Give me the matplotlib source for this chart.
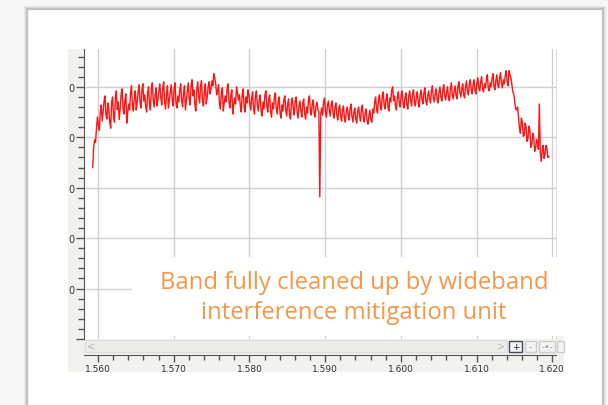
import numpy as np
import matplotlib
matplotlib.use("Agg")
import matplotlib.pyplot as plt
from matplotlib.patches import Rectangle
from matplotlib.ticker import MultipleLocator, FixedLocator

# trace samples (dB, 0 = top grid line)
f_start = 1.5593
f_step = 0.00025
level = [
    -16.0, -10.5, -8.2, -7.5, -5.0, -6.8, -2.8, -5.6, -3.2, -7.0, -3.0,
    -5.8, -2.2, -4.5, -6.5, -1.6, -4.2, -2.6, -7.2, -3.4, -1.2,
    -3.8, -2.0, -4.6, -1.0, -3.0, -0.6, -2.8, -4.0, -1.2, -3.4,
    -0.4, -2.6, -1.6, -3.8, -0.8, -2.2, -0.2, -3.0, -1.4, -4.2,
    -1.0, -2.6, -0.4, -3.2, -1.8, -0.6, -2.8, -1.2, -4.6, -0.8,
    -2.4, 0.4, -1.8, -3.6, -0.6, -2.0, 0.2, -2.6, -1.0, -3.4,
    0.0, -1.4, 1.2, 2.6, 0.6, -0.8, -3.4, -1.2, -4.8, -1.8,
    -0.4, -3.0, -1.6, -5.4, -2.2, 0.0, -2.6, -3.8, -1.4, -4.0,
    -2.0, -0.6, -3.2, -2.2, -4.4, -1.8, -3.6, -2.6, -4.8, -3.0,
    -1.6, -3.8, -2.4, -5.0, -3.2, -2.0, -4.2, -3.0, -5.2, -3.6,
    -2.6, -4.6, -3.4, -5.6, -3.0, -4.4, -2.8, -5.0, -3.8, -4.8,
    -3.2, -5.4, -4.0, -2.6, -4.6, -3.4, -5.2, -3.8, -4.6, -21.8,
    -4.2, -3.0, -5.0, -3.8, -4.6, -3.6, -5.2, -4.0, -5.6, -4.4,
    -5.8, -4.6, -6.2, -4.8, -5.6, -4.2, -6.0, -5.0, -6.4, -4.8,
    -5.8, -4.4, -6.2, -5.2, -6.8, -5.6, -6.6, -4.4, -3.0, -4.6,
    -2.6, -3.8, -1.8, -3.6, -2.4, -4.0, -2.2, -0.6, -2.8, -3.8,
    -2.0, -3.2, -1.6, -3.4, -2.2, -3.6, -1.8, -2.8, -1.4, -3.0,
    -2.0, -3.2, -1.6, -2.6, -1.2, -2.8, -1.8, -2.4, -0.8, -2.2,
    -1.4, -2.6, -1.0, -2.0, -0.6, -1.8, -1.0, -2.2, -0.4, -1.6,
    -0.8, -1.8, 0.2, -1.2, -0.4, -1.6, 0.0, -0.8, 0.6, -0.6,
    0.4, -0.8, 0.8, -0.2, 1.0, -0.4, 0.6, 1.4, -0.2, 0.8,
    1.6, 0.2, 1.2, 0.4, 1.8, 0.6, 1.4, 2.2, 1.0, 3.2,
    1.8, -1.0, -3.0, -4.6, -6.0, -9.2, -7.0, -9.6, -8.0, -10.2,
    -8.6, -11.4, -10.0, -12.2, -11.0, -3.4, -14.8, -11.6, -13.4, -12.2, -13.8,
]
# samples halfway between the ones above
level_mid = [
    -12.0, -11.0, -6.0, -8.6, -3.6, -5.0, -1.8, -6.4, -4.4, -8.2,
    -2.0, -7.0, -0.8, -3.0, -4.4, -0.4, -5.4, -1.4, -5.0, -4.6,
    0.2, -4.8, -0.8, -3.0, 0.4, -4.2, 0.6, -1.6, -5.0, 0.0,
    -4.6, 0.8, -4.0, -0.2, -2.4, 0.6, -3.6, 1.0, -4.4, 0.2,
    -2.6, 0.4, -3.8, 0.8, -4.2, -3.0, 0.6, -4.0, 0.2, -2.6,
    0.8, -3.6, 1.4, -0.6, -4.8, 1.0, -3.2, 1.2, -3.8, 0.6,
    -2.0, 1.0, -0.4, 0.2, 1.8, -1.6, 0.4, -4.4, -0.2, -3.2,
    -3.0, 0.6, -4.2, -0.6, -3.6, -3.4, -1.2, -1.6, -5.0, -0.4,
    -5.0, -3.2, -1.6, -4.6, -1.0, -5.4, -0.8, -4.8, -1.6, -5.8,
    -4.4, -0.8, -5.0, -1.6, -6.0, -4.4, -1.2, -5.4, -2.0, -6.2,
    -4.8, -1.8, -5.8, -2.4, -6.4, -2.2, -5.6, -2.0, -6.2, -2.8,
    -6.0, -2.4, -6.4, -5.2, -1.8, -5.6, -2.6, -6.0, -3.0, -5.0,
    -5.4, -5.6, -2.2, -6.0, -2.8, -5.8, -2.8, -6.2, -3.2, -6.6, -3.6,
    -6.8, -3.8, -7.0, -4.0, -6.6, -3.4, -7.0, -4.2, -7.2, -4.0,
    -6.8, -3.6, -7.0, -4.4, -7.4, -4.6, -7.0, -5.2, -2.0, -5.2,
    -1.6, -4.6, -1.0, -4.4, -1.4, -4.8, -3.0, 0.0, -1.8, -4.6,
    -1.0, -4.0, -0.8, -4.2, -1.2, -4.4, -0.8, -3.8, -0.6, -3.8,
    -1.0, -4.0, -0.6, -3.4, -0.2, -3.6, -0.8, -3.2, 0.2, -3.0,
    -0.4, -3.2, 0.0, -2.8, 0.4, -2.6, 0.0, -2.8, 0.8, -2.4,
    0.2, -2.4, 1.0, -2.0, 0.6, -2.2, 1.2, -1.6, 1.4, -1.4,
    1.4, -1.4, 1.8, -0.8, 2.0, -1.0, -0.2, 2.4, -0.8, 0.0,
    2.6, -0.6, 2.4, -0.2, 2.8, -0.2, 0.6, 3.2, 0.2, 2.4,
    0.4, -1.4, -4.4, -4.0, -8.2, -6.2, -9.8, -7.2, -10.8, -7.8,
    -12.0, -9.2, -12.8, -10.4, -12.4, -13.0, -12.6, -14.2, -11.6, -14.0,
]

x_ticks = [1.560, 1.570, 1.580, 1.590, 1.600, 1.610, 1.620]
x_labels = ["1.560", "1.570", "1.580", "1.590", "1.600", "1.610", "1.620"]
y_ticks = [0, -10, -20, -30, -40, -50]
y_labels = ["0", "0", "0", "0", "0", ""]
note = "Band fully cleaned up by wideband\ninterference mitigation unit"

# interleave the two sample sets into one trace
n = len(level)
trace = np.empty(2 * n - 1)
trace[0::2] = level
trace[1::2] = level_mid[:n - 1]
freq = f_start + (f_step / 2) * np.arange(len(trace))

W, H = 608, 406


def box(x0, y0, x1, y1):
    # pixel box (top-left origin) -> figure fraction rect
    return (x0 / W, 1 - y1 / H), (x1 - x0) / W, (y1 - y0) / H


fig = plt.figure(figsize=(6.08, 4.06), dpi=100, facecolor="#f6f6f6")

# card with soft shadow
for i, a in enumerate([0.05, 0.07, 0.1]):
    xy, w, h = box(27 - 3 + i, 10 - 3 + i, 602 + 4 - i, 420)
    fig.add_artist(Rectangle(xy, w, h, transform=fig.transFigure,
                             facecolor="black", alpha=a, lw=0, zorder=-5))
xy, w, h = box(27, 10, 602, 420)
fig.add_artist(Rectangle(xy, w, h, transform=fig.transFigure,
                         facecolor="white", edgecolor="#c4c4c4", lw=1, zorder=-4))

# grey app panel strips
for b in [(68, 50, 84, 356), (68, 337, 564, 373)]:
    xy, w, h = box(*b)
    fig.add_artist(Rectangle(xy, w, h, transform=fig.transFigure,
                             facecolor="#f1f1ef", lw=0, zorder=-3))

ax = fig.add_axes([84 / W, 1 - 340 / H, (556 - 84) / W, (340 - 50) / H])
ax.set_xlim(1.55815, 1.6205)
ax.set_ylim(-50, 7.5)

for x in x_ticks:
    ax.axvline(x, color="#cfcfcf", lw=1, zorder=1)
for y in y_ticks[:-1]:
    ax.axhline(y, color="#cfcfcf", lw=1, zorder=1)

ax.plot(freq, trace, color="#ff1414", lw=1.0, zorder=3)

for s in ["top", "bottom"]:
    ax.spines[s].set_visible(False)
ax.spines["right"].set_color("#dddddd")
ax.spines["left"].set_color("#555555")
ax.tick_params(axis="x", bottom=False, labelbottom=False)
ax.yaxis.set_major_locator(FixedLocator(y_ticks))
ax.set_yticklabels(y_labels)
ax.yaxis.set_minor_locator(MultipleLocator(2))
ax.tick_params(axis="y", which="major", length=6, width=1, color="#555555",
               labelsize=7, labelcolor="#333333", pad=1)
ax.tick_params(axis="y", which="minor", length=4.5, width=1, color="#555555")

# frequency axis below the scroll bar
sec = ax.secondary_xaxis(-(356 - 340) / (340 - 50))
sec.set_xticks(x_ticks)
sec.set_xticklabels(x_labels)
sec.xaxis.set_minor_locator(MultipleLocator(0.002))
sec.spines["bottom"].set_color("#555555")
sec.tick_params(which="major", length=5, width=1, color="#555555",
                labelsize=6.5, labelcolor="#333333", pad=1.5)
sec.tick_params(which="minor", length=3.5, width=1, color="#555555")

# white box behind the note
xy, w, h = box(132, 258, 566, 337)
fig.add_artist(Rectangle(xy, w, h, transform=fig.transFigure,
                         facecolor="white", lw=0, zorder=4))
fig.text(354 / W, 1 - 298 / H, note, ha="center", va="center",
         fontsize=17.2, family="Open Sans", color="#f79646",
         linespacing=1.3, zorder=5)

# scroll bar and zoom buttons
xy, w, h = box(85, 341, 507, 353)
fig.add_artist(Rectangle(xy, w, h, transform=fig.transFigure,
                         facecolor="#ebebe9", edgecolor="#dddddd", lw=0.8, zorder=4))
fig.text(91 / W, 1 - 347 / H, "<", ha="center", va="center", fontsize=7,
         color="#bbbbbb", zorder=5)
fig.text(501 / W, 1 - 347 / H, ">", ha="center", va="center", fontsize=7,
         color="#bbbbbb", zorder=5)
buttons = [(509, 522, "+", "#3f4d5c", "#222222"), (525, 536, "-", "#cccccc", "#999999"),
           (539, 555, "-•-", "#cccccc", "#999999"), (557, 564, "", "#cccccc", "#999999")]
for x0, x1, t, ec, tc in buttons:
    xy, w, h = box(x0, 342, x1, 353)
    fig.add_artist(Rectangle(xy, w, h, transform=fig.transFigure,
                             facecolor="#f3f3f3", edgecolor=ec, lw=1, zorder=4))
    fig.text((x0 + x1) / 2 / W, 1 - 347.5 / H, t, ha="center", va="center",
             fontsize=6.5, color=tc, zorder=5)

fig.savefig("out.png", dpi=100, facecolor=fig.get_facecolor())
